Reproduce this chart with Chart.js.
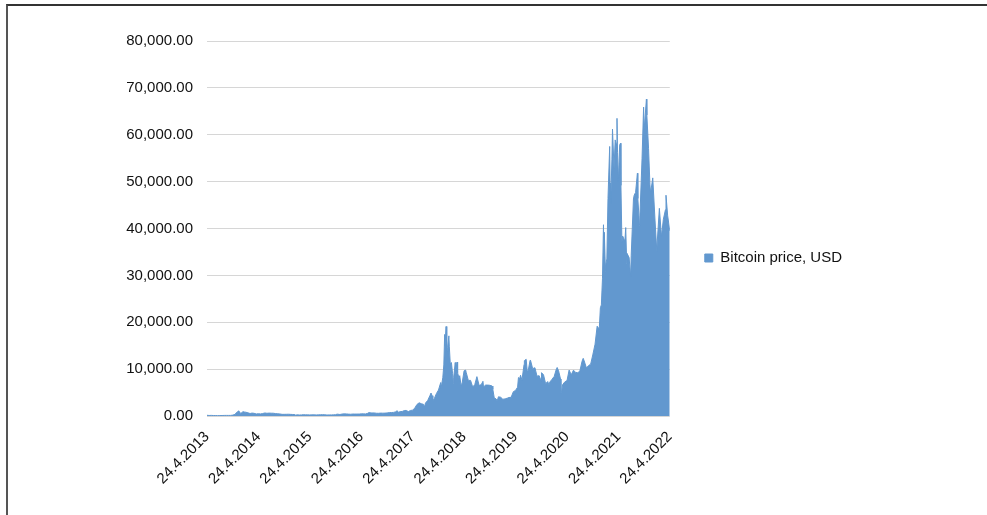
<!DOCTYPE html>
<html>
<head>
<meta charset="utf-8">
<script src="https://cdn.jsdelivr.net/npm/chart.js@4/dist/chart.umd.min.js"></script>
<style>
  html, body { margin: 0; padding: 0; background: #fff; }
  #wrap { position: relative; width: 987px; height: 515px; }
  #frame { position: absolute; left: 6px; top: 4px; right: 0; bottom: 0;
           border-top: 2px solid #333; border-left: 2px solid #555; }
  canvas { position: absolute; left: 0; top: 0; }
</style>
</head>
<body>
<div id="wrap">
  <div id="frame"></div>
  <canvas id="chart" width="987" height="515"></canvas>
</div>
<script>
// tick labels on the date axis
const tickLabels = ["24.4.2013", "24.4.2014", "24.4.2015", "24.4.2016", "24.4.2017",
  "24.4.2018", "24.4.2019", "24.4.2020", "24.4.2021", "24.4.2022"];

// sample dates and closing prices (USD)
const dates = [
  "2013-04-24", "2013-05-09", "2013-05-24", "2013-06-09", "2013-06-24", "2013-07-09", "2013-07-24",
  "2013-08-09", "2013-08-24", "2013-09-09", "2013-09-24", "2013-10-09", "2013-10-24", "2013-11-09",
  "2013-11-18", "2013-11-24", "2013-12-04", "2013-12-09", "2013-12-18", "2013-12-24", "2014-01-05",
  "2014-01-09", "2014-01-24", "2014-02-09", "2014-02-24", "2014-03-09", "2014-03-24", "2014-04-09",
  "2014-04-24", "2014-05-09", "2014-05-24", "2014-06-09", "2014-06-24", "2014-07-09", "2014-07-24",
  "2014-08-09", "2014-08-24", "2014-09-09", "2014-09-24", "2014-10-09", "2014-10-24", "2014-11-09",
  "2014-11-24", "2014-12-09", "2014-12-24", "2015-01-09", "2015-01-14", "2015-01-24", "2015-02-09",
  "2015-02-24", "2015-03-09", "2015-03-24", "2015-04-09", "2015-04-24", "2015-05-09", "2015-05-24",
  "2015-06-09", "2015-06-24", "2015-07-09", "2015-07-24", "2015-08-09", "2015-08-24", "2015-09-09",
  "2015-09-24", "2015-10-09", "2015-10-24", "2015-11-04", "2015-11-09", "2015-11-24", "2015-12-09",
  "2015-12-24", "2016-01-09", "2016-01-24", "2016-02-09", "2016-02-24", "2016-03-09", "2016-03-24",
  "2016-04-09", "2016-04-24", "2016-05-09", "2016-05-24", "2016-06-09", "2016-06-18", "2016-06-24",
  "2016-07-09", "2016-07-24", "2016-08-09", "2016-08-24", "2016-09-09", "2016-09-24", "2016-10-09",
  "2016-10-24", "2016-11-09", "2016-11-24", "2016-12-09", "2016-12-24", "2017-01-04", "2017-01-11",
  "2017-01-24", "2017-02-09", "2017-02-24", "2017-03-09", "2017-03-24", "2017-04-09", "2017-04-24",
  "2017-05-09", "2017-05-24", "2017-06-09", "2017-06-24", "2017-07-09", "2017-07-16", "2017-07-24",
  "2017-08-09", "2017-08-24", "2017-09-01", "2017-09-09", "2017-09-14", "2017-09-24", "2017-10-09",
  "2017-10-24", "2017-11-09", "2017-11-12", "2017-11-24", "2017-12-01", "2017-12-07", "2017-12-10",
  "2017-12-17", "2017-12-22", "2017-12-24", "2017-12-28", "2018-01-06", "2018-01-09", "2018-01-16",
  "2018-01-24", "2018-02-01", "2018-02-06", "2018-02-09", "2018-02-20", "2018-02-24", "2018-03-05",
  "2018-03-09", "2018-03-18", "2018-03-24", "2018-04-01", "2018-04-09", "2018-04-24", "2018-05-05",
  "2018-05-09", "2018-05-24", "2018-06-09", "2018-06-24", "2018-07-09", "2018-07-24", "2018-08-09",
  "2018-08-24", "2018-09-05", "2018-09-09", "2018-09-24", "2018-10-09", "2018-10-24", "2018-11-09",
  "2018-11-14", "2018-11-24", "2018-12-09", "2018-12-15", "2018-12-24", "2019-01-09", "2019-01-24",
  "2019-02-09", "2019-02-24", "2019-03-09", "2019-03-24", "2019-04-09", "2019-04-24", "2019-05-09",
  "2019-05-15", "2019-05-24", "2019-05-30", "2019-06-09", "2019-06-24", "2019-06-26", "2019-07-09",
  "2019-07-17", "2019-07-24", "2019-08-06", "2019-08-09", "2019-08-24", "2019-09-09", "2019-09-24",
  "2019-10-09", "2019-10-24", "2019-10-26", "2019-11-09", "2019-11-24", "2019-12-09", "2019-12-18",
  "2019-12-24", "2020-01-09", "2020-01-24", "2020-02-09", "2020-02-14", "2020-02-24", "2020-03-09",
  "2020-03-12", "2020-03-16", "2020-03-24", "2020-04-09", "2020-04-24", "2020-05-09", "2020-05-24",
  "2020-06-09", "2020-06-24", "2020-07-09", "2020-07-24", "2020-08-09", "2020-08-17", "2020-08-24",
  "2020-09-09", "2020-09-24", "2020-10-09", "2020-10-24", "2020-11-09", "2020-11-24", "2020-12-09",
  "2020-12-17", "2020-12-24", "2021-01-01", "2021-01-08", "2021-01-12", "2021-01-14", "2021-01-22",
  "2021-01-24", "2021-02-01", "2021-02-09", "2021-02-21", "2021-02-24", "2021-02-28", "2021-03-09",
  "2021-03-13", "2021-03-24", "2021-04-01", "2021-04-09", "2021-04-14", "2021-04-18", "2021-04-24",
  "2021-05-03", "2021-05-09", "2021-05-12", "2021-05-19", "2021-05-24", "2021-06-09", "2021-06-15",
  "2021-06-22", "2021-06-24", "2021-07-09", "2021-07-20", "2021-07-24", "2021-08-09", "2021-08-14",
  "2021-08-24", "2021-09-06", "2021-09-09", "2021-09-21", "2021-09-24", "2021-10-09", "2021-10-20",
  "2021-10-24", "2021-11-09", "2021-11-12", "2021-11-24", "2021-12-04", "2021-12-09", "2021-12-24",
  "2022-01-09", "2022-01-22", "2022-01-24", "2022-02-09", "2022-02-24", "2022-03-09", "2022-03-24",
  "2022-03-28", "2022-04-09", "2022-04-24"
];
const prices = [
  155, 112, 133, 100, 106, 77, 95,
  104, 122, 127, 124, 127, 190, 336,
  700, 800, 1100, 990, 560, 665, 930,
  840, 815, 680, 530, 625, 580, 440,
  500, 450, 525, 650, 580, 620, 600,
  590, 510, 475, 435, 355, 355, 365,
  380, 350, 322, 290, 180, 248, 220,
  238, 290, 246, 244, 231, 243, 241,
  229, 241, 269, 289, 265, 210, 238,
  235, 244, 283, 400, 381, 323, 416,
  454, 448, 403, 376, 424, 412, 416,
  420, 459, 461, 445, 575, 750, 665,
  650, 660, 590, 580, 623, 603, 616,
  651, 723, 740, 772, 890, 1130, 780,
  918, 980, 1170, 1190, 940, 1190, 1250,
  1720, 2450, 2820, 2620, 2500, 1930, 2760,
  3340, 4330, 4900, 4330, 3240, 3670, 4770,
  5530, 7140, 5950, 8250, 10900, 17400, 15000,
  19100, 13800, 13900, 14600, 17100, 14900, 11100,
  11400, 9100, 6950, 8200, 11400, 9700, 11500,
  9200, 8200, 8600, 6800, 6800, 9650, 9800,
  9300, 7600, 7600, 6200, 6700, 8400, 6500,
  6700, 7400, 6200, 6600, 6600, 6550, 6400,
  5700, 3900, 3600, 3200, 4100, 4000, 3580,
  3650, 3800, 3950, 3990, 5200, 5450, 6150,
  8200, 7980, 8700, 7650, 11000, 11800, 12100,
  9400, 9800, 11900, 11850, 10100, 10300, 8500,
  8600, 7450, 9250, 8800, 6900, 7350, 6600,
  7250, 7850, 8450, 10100, 10350, 9650, 7900,
  4970, 5000, 6700, 7300, 7550, 9800, 8800,
  9780, 9300, 9250, 9550, 11700, 12300, 11750,
  10250, 10750, 11060, 13030, 15300, 19160, 18550,
  23100, 23700, 29400, 40800, 33900, 39200, 30800,
  32300, 33500, 46400, 57500, 49700, 45100, 54800,
  61200, 52800, 58900, 58100, 63500, 56200, 50100,
  57800, 58200, 49200, 37000, 38400, 37300, 40200,
  32500, 34700, 33800, 29800, 34300, 46300, 47100,
  47700, 51800, 46400, 40700, 42800, 55000, 65900,
  61100, 67600, 64200, 57100, 49300, 47600, 50800,
  41800, 35000, 36700, 44300, 38300, 41900, 44000,
  47100, 42700, 39500
];

const seriesName = "Bitcoin price, USD";
const fillColor = "#6298cf";

const startDay = Date.UTC(2013, 3, 24);
function dayOf(s) {
  let p = s.includes("-") ? s.split("-").map(Number) : s.split(".").map(Number).reverse();
  return (Date.UTC(p[0], p[1] - 1, p[2]) - startDay) / 86400000;
}

// nudge the legend a little above the middle, as in the original
const legendShift = {
  id: "legendShift",
  afterLayout: (chart) => {
    if (chart.legend) {
      chart.legend.top -= 6;
      chart.legend.bottom -= 6;
    }
  },
};

Chart.defaults.font.family = "'Liberation Sans', Arial, Helvetica, sans-serif";
Chart.defaults.font.size = 15;
Chart.defaults.color = "#111";

const canvas = document.getElementById("chart");

new Chart(canvas, {
  type: "line",
  data: {
    datasets: [
      {
        label: seriesName,
        data: dates.map((d, i) => ({ x: dayOf(d), y: prices[i] })),
        backgroundColor: fillColor,
        borderColor: fillColor,
        borderWidth: 1,
        pointRadius: 0,
        fill: "origin",
        tension: 0,
      },
    ],
  },
  options: {
    responsive: false,
    animation: false,
    layout: {
      padding: { left: 20, right: 135, top: 41, bottom: 28 },
    },
    scales: {
      x: {
        type: "linear",
        min: 0,
        max: dayOf(tickLabels[tickLabels.length - 1]),
        afterBuildTicks: (scale) => {
          scale.ticks = tickLabels.map((t) => ({ value: dayOf(t) }));
        },
        afterFit: (scale) => {
          scale.height = 71;
        },
        ticks: {
          autoSkip: false,
          minRotation: 45,
          maxRotation: 45,
          padding: 4,
          callback: (value, index) => tickLabels[index],
        },
        grid: { display: false },
        border: { display: false },
      },
      y: {
        min: 0,
        max: 80000,
        afterFit: (scale) => {
          scale.width = 187;
        },
        ticks: {
          stepSize: 10000,
          padding: 14,
          callback: (value) =>
            value.toLocaleString("en-US", { minimumFractionDigits: 2, maximumFractionDigits: 2 }),
        },
        grid: {
          color: "#d6d6d6",
          lineWidth: 1,
          drawTicks: false,
        },
        border: { display: false },
      },
    },
    plugins: {
      legend: {
        position: "right",
        labels: {
          boxWidth: 8,
          boxHeight: 8,
          padding: 35,
        },
      },
      tooltip: { enabled: false },
    },
  },
  plugins: [legendShift],
});
</script>
</body>
</html>
